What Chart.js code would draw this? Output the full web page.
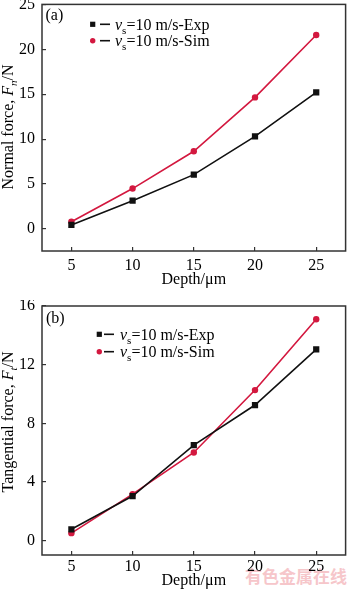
<!DOCTYPE html>
<html><head><meta charset="utf-8">
<script src="https://cdn.jsdelivr.net/npm/chart.js@4.4.1/dist/chart.umd.min.js"></script>
<style>
html,body{margin:0;padding:0;background:#fff;}
#wrap{position:relative;width:350px;height:593px;overflow:hidden;background:#fff}
canvas{position:absolute;left:0}
#ca{top:0}
#cb{top:300px}
#wm{position:absolute;left:245px;top:567px;font:bold 17px "Noto Sans CJK SC";line-height:17px;color:#f6c6ca;white-space:nowrap}
</style></head><body>
<div id="wrap">
<div id="wm">有色金属在线</div>
<canvas id="ca" width="350" height="300"></canvas>
<canvas id="cb" width="350" height="293"></canvas>
</div>
<script>
// ---- data ----
const xDepth = [5, 10, 15, 20, 25];
const normalExp = [0.45, 3.15, 6.05, 10.3, 15.2];
const normalSim = [0.8, 4.5, 8.65, 14.65, 21.6];
const tangExp = [0.78, 3.05, 6.52, 9.25, 13.05];
const tangSim = [0.52, 3.18, 6.02, 10.27, 15.1];
const xTicks = [5, 10, 15, 20, 25];
const yTicksA = [0, 5, 10, 15, 20, 25];
const yTicksB = [0, 4, 8, 12, 16];
const legendText = ['=10 m/s-Exp', '=10 m/s-Sim'];
const xTitle = 'Depth/\u03bcm';

const SERIF = '"Liberation Serif","Times New Roman",serif';
const BLACK = '#111111';
const RED = '#d3183f';
const AX = '#333333';

function drawRich(ctx, x, y, parts) {
  let cx = x;
  for (const p of parts) {
    ctx.font = p.f;
    ctx.fillText(p.t, cx, y + (p.dy || 0));
    cx += ctx.measureText(p.t).width;
  }
  return cx - x;
}
function richWidth(ctx, parts) {
  let w = 0;
  for (const p of parts) { ctx.font = p.f; w += ctx.measureText(p.t).width; }
  return w;
}

function deco(g) {
  return {
    id: 'deco',
    afterDraw(chart) {
      const ctx = chart.ctx, a = chart.chartArea;
      ctx.save();
      // frame
      ctx.strokeStyle = AX; ctx.lineWidth = 1.5;
      ctx.strokeRect(a.left, a.top, a.right - a.left, a.bottom - a.top);
      ctx.fillStyle = '#000';
      ctx.textBaseline = 'alphabetic';
      ctx.textAlign = 'left';
      // panel label
      ctx.font = '16px ' + SERIF;
      ctx.fillText(g.panel, g.panelX, g.panelY);
      // y title (rotated)
      const parts = g.yTitle;
      const w = richWidth(ctx, parts);
      ctx.save();
      ctx.translate(g.yTitleX, g.yTitleY);
      ctx.rotate(-Math.PI / 2);
      drawRich(ctx, -w / 2, 0, parts);
      ctx.restore();
      // legend
      const cols = [BLACK, RED];
      for (let i = 0; i < 2; i++) {
        const y = g.rows[i];
        ctx.fillStyle = cols[i];
        if (i === 0) {
          ctx.fillRect(g.markX - 2.6, y - 2.6, 5.2, 5.2);
        } else {
          ctx.beginPath(); ctx.arc(g.markX, y, 2.7, 0, Math.PI * 2); ctx.fill();
        }
        ctx.strokeStyle = BLACK; ctx.lineWidth = 1.6;
        ctx.beginPath(); ctx.moveTo(g.lineX1, y); ctx.lineTo(g.lineX2, y); ctx.stroke();
        ctx.fillStyle = '#000';
        drawRich(ctx, g.textX, y + 5.5, [
          {t: 'v', f: 'italic 16px ' + SERIF},
          {t: 's', f: '11px ' + SERIF, dy: 4},
          {t: legendText[i], f: '16px ' + SERIF}
        ]);
      }
      ctx.restore();
    }
  };
}

function makeChart(id, exp, sim, yMin, yMax, yTicks, g) {
  return new Chart(document.getElementById(id), {
    type: 'line',
    data: {
      datasets: [
        {label: 'Exp', data: xDepth.map((x, i) => ({x: x, y: exp[i]})),
         borderColor: BLACK, backgroundColor: BLACK, borderWidth: 1.6,
         pointStyle: 'rect', pointRadius: 4.4, pointBorderWidth: 0, tension: 0},
        {label: 'Sim', data: xDepth.map((x, i) => ({x: x, y: sim[i]})),
         borderColor: RED, backgroundColor: RED, borderWidth: 1.6,
         pointStyle: 'circle', pointRadius: 3.2, pointBorderWidth: 0, tension: 0}
      ]
    },
    options: {
      responsive: false, animation: false, devicePixelRatio: 1,
      layout: {padding: {left: 0, right: g.right, top: g.top, bottom: 0}},
      plugins: {legend: {display: false}, tooltip: {enabled: false}},
      scales: {
        x: {
          type: 'linear', min: 2.6, max: 27.4,
          afterBuildTicks: s => { s.ticks = xTicks.map(v => ({value: v})); },
          afterFit: s => { s.height = g.xh; s.paddingLeft = 0; s.paddingRight = 0; },
          grid: {drawOnChartArea: false, tickLength: -4, color: AX, lineWidth: 1.2},
          border: {display: false},
          ticks: {padding: g.xpad, color: '#000', font: {family: SERIF, size: 16},
                  maxRotation: 0, autoSkip: false, callback: v => String(v)},
          title: {display: true, text: xTitle, color: '#000',
                  font: {family: SERIF, size: 16}, padding: {top: 0, bottom: g.tpad}}
        },
        y: {
          type: 'linear', min: yMin, max: yMax,
          afterBuildTicks: s => { s.ticks = yTicks.map(v => ({value: v})); },
          afterFit: s => { s.width = 42; s.paddingTop = 0; s.paddingBottom = 0; },
          grid: {drawOnChartArea: false, tickLength: -4, color: AX, lineWidth: 1.2},
          border: {display: false},
          ticks: {padding: 11, color: '#000', font: {family: SERIF, size: 16},
                  autoSkip: false, callback: v => String(v)}
        }
      }
    },
    plugins: [deco(g)]
  });
}

makeChart('ca', normalExp, normalSim, -2.45, 25, yTicksA, {
  top: 4, right: 2.5, xh: 49, xpad: 9.2, tpad: 10.4,
  panel: '(a)', panelX: 45.5, panelY: 20,
  yTitleX: 13, yTitleY: 127,
  yTitle: [
    {t: 'Normal force, ', f: '16px ' + SERIF},
    {t: 'F', f: 'italic 16px ' + SERIF},
    {t: 'n', f: 'italic 11px ' + SERIF, dy: 4},
    {t: '/N', f: '16px ' + SERIF}
  ],
  markX: 92.7, lineX1: 100, lineX2: 110, textX: 115, rows: [24.3, 40.7]
});

makeChart('cb', tangExp, tangSim, -0.97, 16, yTicksB, {
  top: 6, right: 2.5, xh: 38, xpad: 6.4, tpad: 2.4,
  panel: '(b)', panelX: 46, panelY: 23,
  yTitleX: 13, yTitleY: 122,
  yTitle: [
    {t: 'Tangential force, ', f: '16px ' + SERIF},
    {t: 'F', f: 'italic 16px ' + SERIF},
    {t: 't', f: 'italic 11px ' + SERIF, dy: 4},
    {t: '/N', f: '16px ' + SERIF}
  ],
  markX: 99.3, lineX1: 104, lineX2: 114, textX: 120, rows: [34.3, 51.7]
});
</script>
</body></html>
